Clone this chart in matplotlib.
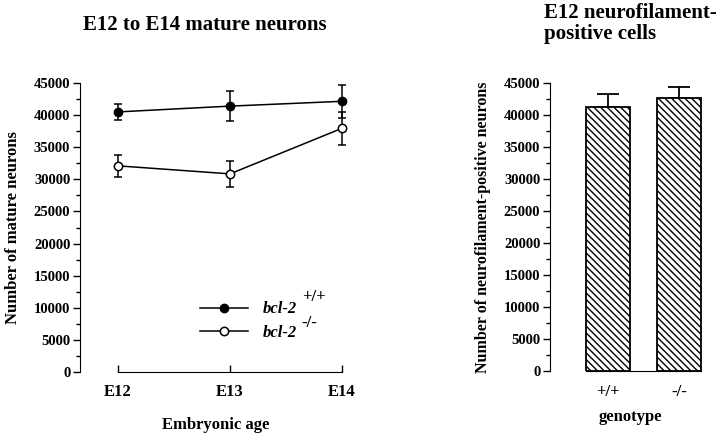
import numpy as np
import matplotlib
matplotlib.use("Agg")
from matplotlib import pyplot as plt
from matplotlib.lines import Line2D

plt.rcParams["font.family"] = ["Liberation Serif", "DejaVu Serif"]
plt.rcParams["font.weight"] = "bold"
plt.rcParams["axes.titleweight"] = "bold"
plt.rcParams["axes.labelweight"] = "bold"
plt.rcParams["hatch.linewidth"] = 1.0

# left panel: mature neurons by embryonic age
ages = ["E12", "E13", "E14"]
wt_mean = [40500, 41400, 42150]
wt_err = [1300, 2300, 2600]
ko_mean = [32100, 30850, 37950]
ko_err = [1700, 2050, 2550]

# right panel: E12 neurofilament-positive cells
genotypes = ["+/+", "-/-"]
nf_mean = [41300, 42650]
nf_err = [2000, 1800]

yticks = np.arange(0, 45001, 5000)

fig = plt.figure(figsize=(7.2, 4.37), dpi=100)
W, H = 720, 437

# ---- left panel ----
ax = fig.add_axes([80 / W, (H - 372) / H, 272 / W, 289 / H])
x = np.arange(len(ages))
ax.errorbar(x, wt_mean, yerr=wt_err, color="black", lw=1.1, marker="o",
            ms=6, mfc="black", mec="black", capsize=2.7, capthick=1.1,
            elinewidth=1.1, clip_on=False, zorder=3)
ax.errorbar(x, ko_mean, yerr=ko_err, color="black", lw=1.1, marker="o",
            ms=6, mfc="white", mec="black", mew=1.1, capsize=2.7, capthick=1.1,
            elinewidth=1.1, clip_on=False, zorder=3)
ax.set_xlim(-0.339, 2.089)
ax.set_ylim(0, 45000)
ax.set_yticks(yticks)
ax.set_yticks(np.arange(2500, 45000, 5000), minor=True)
ax.set_xticks(x)
ax.set_xticklabels(ages, fontsize=12)
ax.tick_params(axis="y", direction="out", length=5, width=1, labelsize=10.5, pad=2)
ax.tick_params(axis="y", which="minor", direction="out", length=3, width=1)
ax.tick_params(axis="x", direction="in", length=5, width=1, pad=9)
for s in ["top", "right"]:
    ax.spines[s].set_visible(False)
ax.spines["bottom"].set_bounds(0, 2)
ax.spines["left"].set_bounds(0, 45000)
ax.set_xlabel("Embryonic age", fontsize=12, labelpad=12)
ax.set_ylabel("Number of mature neurons", fontsize=12, labelpad=9)
ax.set_title("E12 to E14 mature neurons", fontsize=15, pad=38, x=0.46)

handles = [
    Line2D([], [], color="black", lw=1.1, marker="o", ms=6, mfc="black"),
    Line2D([], [], color="black", lw=1.1, marker="o", ms=6, mfc="white", mew=1.1),
]
leg = ax.legend(handles, ["bcl-2", "bcl-2"], loc="center left",
                bbox_to_anchor=(0.41, 0.176), frameon=False, handlelength=2.9,
                labelspacing=0.45, handletextpad=0.9, borderpad=0,
                prop={"style": "italic", "weight": "bold", "size": 12})
ax.text(0.815, 0.258, "+/+", transform=ax.transAxes, fontsize=12, va="center")
ax.text(0.815, 0.17, "-/-", transform=ax.transAxes, fontsize=12, va="center")

# ---- right panel ----
bx = fig.add_axes([550 / W, (H - 371) / H, 160 / W, 288 / H])
pos = np.arange(len(genotypes))
bx.bar(pos, nf_mean, width=0.62, color="white", edgecolor="black",
       hatch="\\" * 5, linewidth=1.3, zorder=2)
bx.errorbar(pos, nf_mean, yerr=[np.zeros(len(nf_err)), nf_err], fmt="none",
            ecolor="black", elinewidth=1.3, capsize=8, capthick=1.3, zorder=1)
bx.set_xlim(-0.817, 1.437)
bx.set_ylim(0, 45000)
bx.set_yticks(yticks)
bx.set_yticks(np.arange(2500, 45000, 5000), minor=True)
bx.set_xticks(pos)
bx.set_xticklabels(genotypes, fontsize=12)
bx.tick_params(axis="y", direction="out", length=5, width=1, labelsize=10.5, pad=2)
bx.tick_params(axis="y", which="minor", direction="out", length=3, width=1)
bx.tick_params(axis="x", length=0, pad=9)
for s in ["top", "right"]:
    bx.spines[s].set_visible(False)
bx.spines["bottom"].set_bounds(-0.31, 1.31)
bx.spines["left"].set_bounds(0, 45000)
bx.set_xlabel("genotype", fontsize=12, labelpad=7)
bx.set_ylabel("Number of neurofilament-positive neurons", fontsize=11.5, labelpad=9)
fig.text(544 / W, 1 - 23.5 / H, "E12 neurofilament-\npositive cells", fontsize=15,
         ha="left", va="center", linespacing=1.05)

fig.savefig("out.png", dpi=100)
